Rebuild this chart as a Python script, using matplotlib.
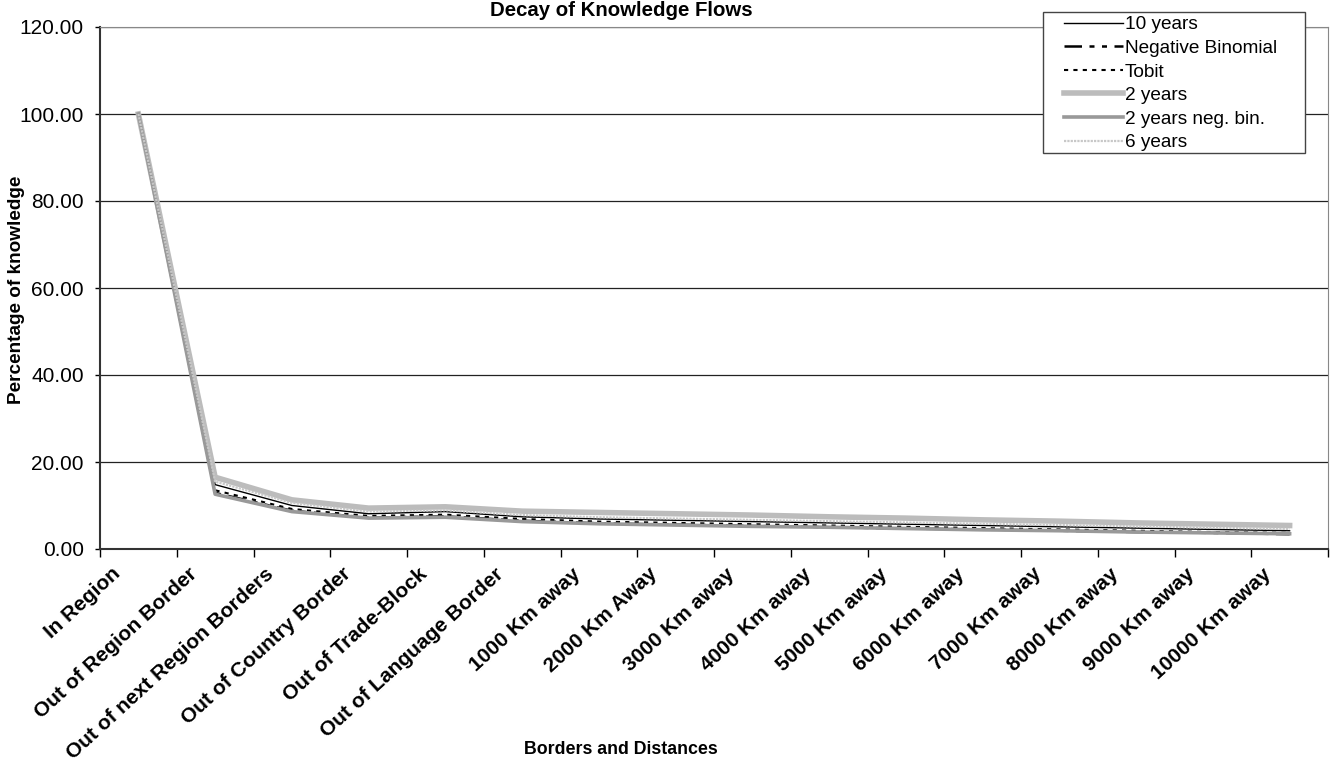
import numpy as np
import matplotlib.pyplot as plt
from matplotlib.ticker import FormatStrFormatter
from matplotlib.transforms import ScaledTranslation
from matplotlib.patches import Rectangle

plt.rcParams['font.family'] = ['Liberation Sans', 'DejaVu Sans']

categories = ["In Region", "Out of Region Border", "Out of next Region Borders",
              "Out of Country Border", "Out of Trade-Block", "Out of Language Border",
              "1000 Km away", "2000 Km Away", "3000 Km away", "4000 Km away",
              "5000 Km away", "6000 Km away", "7000 Km away", "8000 Km away",
              "9000 Km away", "10000 Km away"]

ten_years = [100, 14.8, 10.0, 8.1, 8.6, 7.4, 6.9, 6.6, 6.3, 6.0, 5.7, 5.4, 5.1, 4.8, 4.5, 4.2]
neg_binomial = [100, 12.9, 8.8, 7.2, 7.5, 6.5, 5.9, 5.6, 5.3, 5.0, 4.7, 4.5, 4.2, 3.9, 3.7, 3.4]
tobit = [100, 13.5, 9.2, 7.6, 7.9, 6.9, 6.3, 6.0, 5.7, 5.4, 5.1, 4.8, 4.5, 4.2, 3.9, 3.7]
two_years = [100, 16.5, 11.3, 9.4, 9.7, 8.7, 8.4, 8.1, 7.8, 7.4, 7.1, 6.7, 6.4, 6.0, 5.7, 5.4]
two_years_nb = [100, 12.6, 8.6, 7.1, 7.3, 6.3, 5.8, 5.5, 5.2, 5.0, 4.7, 4.4, 4.2, 3.9, 3.7, 3.5]
six_years = [100, 15.5, 10.6, 8.6, 8.9, 7.8, 7.3, 7.0, 6.7, 6.4, 6.1, 5.8, 5.5, 5.2, 4.9, 4.6]

W, H = 1336, 770
fig = plt.figure(figsize=(W / 100, H / 100), dpi=100)
ax = fig.add_axes([100 / W, 1 - 549 / H, 1228 / W, 522 / H])

x = np.arange(len(categories))
ax.plot(x, ten_years, color='black', lw=1, label='10 years', zorder=2)
ax.plot(x, neg_binomial, color='black', lw=1.8, ls=(0, (7, 3, 2, 3, 2, 3)),
        label='Negative Binomial', zorder=3)
ax.plot(x, tobit, color='black', lw=1.5, ls=(0, (2, 2.5)), label='Tobit', zorder=4)
ax.plot(x, two_years, color='#bcbcbc', lw=4, label='2 years', zorder=5)
ax.plot(x, two_years_nb, color='#999999', lw=2.6, label='2 years neg. bin.', zorder=6)
ax.plot(x, six_years, color='#c8c8c8', lw=1.6, ls=(0, (1, 0.5)), label='6 years', zorder=7)

ax.set_xlim(-0.5, len(categories) - 0.5)
ax.set_ylim(0, 120)
ax.set_yticks(np.arange(0, 121, 20))
ax.yaxis.set_major_formatter(FormatStrFormatter('%.2f'))
ax.yaxis.grid(True, color='#222222', lw=0.9)
ax.set_axisbelow(True)

ax.set_xticks(np.arange(-0.5, len(categories), 1.0))
ax.set_xticklabels([])
ax.set_xticks(x, minor=True)
ax.set_xticklabels(categories, minor=True, rotation=42.5, ha='right', va='center',
                   rotation_mode='anchor', fontweight='bold', fontsize=15)
ax.tick_params(axis='x', which='major', direction='out', length=6, width=1)
ax.tick_params(axis='x', which='minor', length=0, pad=16)
ax.tick_params(axis='y', direction='out', length=3.6, width=1, labelsize=15, pad=8)

# shift category labels to the left like the original
shift = ScaledTranslation(-15 / 72, 0, fig.dpi_scale_trans)
for lab in ax.get_xticklabels(minor=True):
    lab.set_transform(lab.get_transform() + shift)

for s in ['left', 'bottom']:
    ax.spines[s].set_color('#333333')
    ax.spines[s].set_linewidth(1.5)
ax.spines['top'].set_color('#888888')
ax.spines['right'].set_color('#888888')

fig.text(621 / W, 1 - 10 / H, 'Decay of Knowledge Flows', ha='center', va='center',
         fontsize=14.7, fontweight='bold')
fig.text(621 / W, 1 - 750 / H, 'Borders and Distances', ha='center', va='center',
         fontsize=12.8, fontweight='bold')
fig.text(17 / W, 1 - 290 / H, 'Percentage of knowledge', ha='center', va='center',
         rotation=90, fontsize=13.7, fontweight='bold')

# legend box drawn by hand, legend itself without frame
box = Rectangle((1043 / W, 1 - 153 / H), 262 / W, 141 / H, transform=fig.transFigure,
                facecolor='white', edgecolor='#444444', lw=1, zorder=3)
fig.patches.append(box)

handles, labels = ax.get_legend_handles_labels()
order = ['10 years', 'Negative Binomial', 'Tobit', '2 years', '2 years neg. bin.', '6 years']
hmap = dict(zip(labels, handles))
leg = fig.legend([hmap[l] for l in order], order, loc='upper left',
                 bbox_to_anchor=(1064 / W, 1 - 16 / H), fontsize=13.7,
                 frameon=False, handlelength=3.1, handletextpad=0.1,
                 labelspacing=0.33, borderpad=0, borderaxespad=0)
leg.set_zorder(5)

fig.savefig('out.png', dpi=100)
